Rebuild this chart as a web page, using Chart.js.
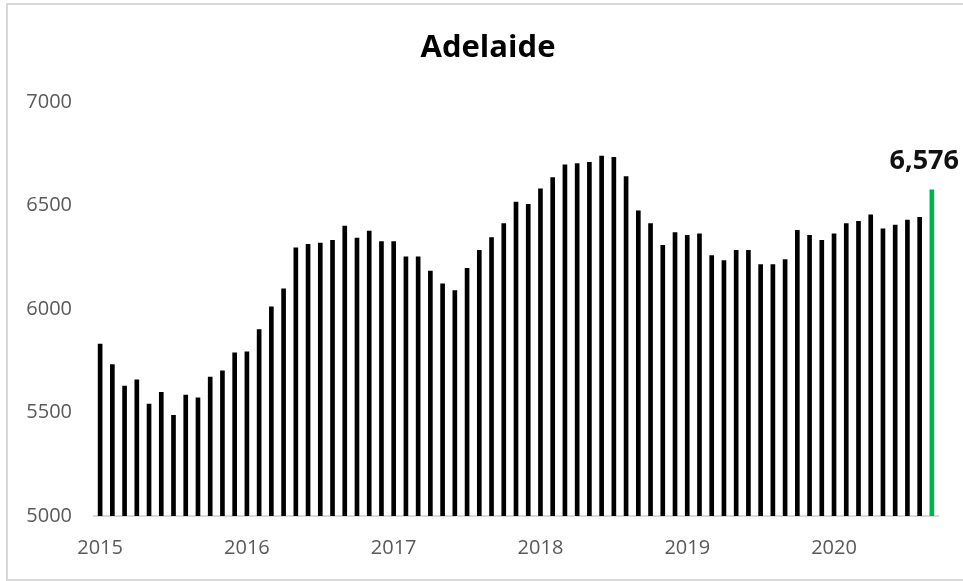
<!DOCTYPE html>
<html>
<head>
<meta charset="utf-8">
<script src="https://cdn.jsdelivr.net/npm/chart.js@4"></script>
<style>
  body { margin: 0; background: #fff; }
  #wrap { position: relative; width: 963px; height: 581px; }
  #frame { position: absolute; left: 6px; top: 3px; width: 955px; height: 574px;
           border: 2px solid #d9d9d9; pointer-events: none; }
</style>
</head>
<body>
<div id="wrap">
  <canvas id="mycanvas" width="963" height="581"></canvas>
  <div id="frame"></div>
</div>
<script>
// monthly values, Jan 2015 .. Sep 2020
var years = [2015, 2016, 2017, 2018, 2019, 2020];
var values = [
  5830, 5732, 5628, 5658, 5541, 5597, 5486, 5584, 5571, 5671, 5701, 5788,
  5793, 5901, 6010, 6097, 6295, 6313, 6319, 6332, 6400, 6343, 6376, 6326,
  6326, 6252, 6252, 6183, 6121, 6089, 6196, 6283, 6345, 6413, 6517, 6506,
  6580, 6635, 6696, 6702, 6709, 6739, 6733, 6640, 6474, 6413, 6308, 6369,
  6356, 6363, 6258, 6234, 6283, 6283, 6215, 6215, 6239, 6380, 6356, 6332,
  6363, 6413, 6424, 6455, 6387, 6406, 6430, 6443, 6576
];
var lastLabel = "6,576";
var titleText = "Adelaide";

var labels = [];
for (var y in years) {
  for (var m = 1; m <= 12; m++) {
    if (labels.length < values.length) labels.push(years[y] + "-" + (m < 10 ? "0" + m : m));
  }
}

var colors = [];
for (var i in values) {
  colors.push(i == values.length - 1 ? "#00b050" : "#000000");
}

// title + label on the last bar
var textPlugin = {
  id: "texts",
  afterDatasetsDraw: function(chart) {
    var ctx = chart.ctx;
    ctx.save();
    ctx.font = "bold 31px 'Open Sans'";
    ctx.fillStyle = "#000";
    ctx.textAlign = "center";
    ctx.textBaseline = "middle";
    ctx.fillText(titleText, 488, 48);

    var meta = chart.getDatasetMeta(0);
    var bar = meta.data[meta.data.length - 1];
    ctx.font = "bold 27px 'Open Sans'";
    ctx.fillStyle = "#111";
    ctx.textBaseline = "alphabetic";
    ctx.textAlign = "right";
    var w = ctx.measureText(lastLabel).width;
    var right = Math.min(bar.x + w / 2, 959);
    ctx.fillText(lastLabel, right, bar.y - 21);
    ctx.restore();
  }
};

var ctx = document.getElementById("mycanvas");
var chart = new Chart(ctx, {
  type: "bar",
  data: {
    labels: labels,
    datasets: [{
      data: values,
      backgroundColor: colors,
      barThickness: 4
    }]
  },
  plugins: [textPlugin],
  options: {
    responsive: false,
    animation: false,
    layout: { padding: { left: 20, right: 25, top: 102, bottom: 0 } },
    plugins: {
      legend: { display: false },
      tooltip: { enabled: false },
      title: { display: false }
    },
    scales: {
      x: {
        grid: { display: false, drawTicks: false },
        border: { display: true, color: "#d9d9d9", width: 2 },
        afterFit: function(s) { s.height = 65; },
        ticks: {
          autoSkip: false,
          maxRotation: 0,
          padding: 20,
          color: "#595959",
          font: { family: "'Open Sans'", size: 20 },
          callback: function(v) {
            var l = this.getLabelForValue(v);
            return l.slice(5) == "01" ? l.slice(0, 4) : "";
          }
        }
      },
      y: {
        min: 5000,
        max: 7000,
        grid: { display: false, drawTicks: false },
        border: { display: false },
        afterFit: function(s) { s.width = 74; },
        ticks: {
          stepSize: 500,
          padding: 22,
          color: "#595959",
          font: { family: "'Open Sans'", size: 20 },
          callback: function(v) { return String(v); }
        }
      }
    }
  }
});
</script>
</body>
</html>
